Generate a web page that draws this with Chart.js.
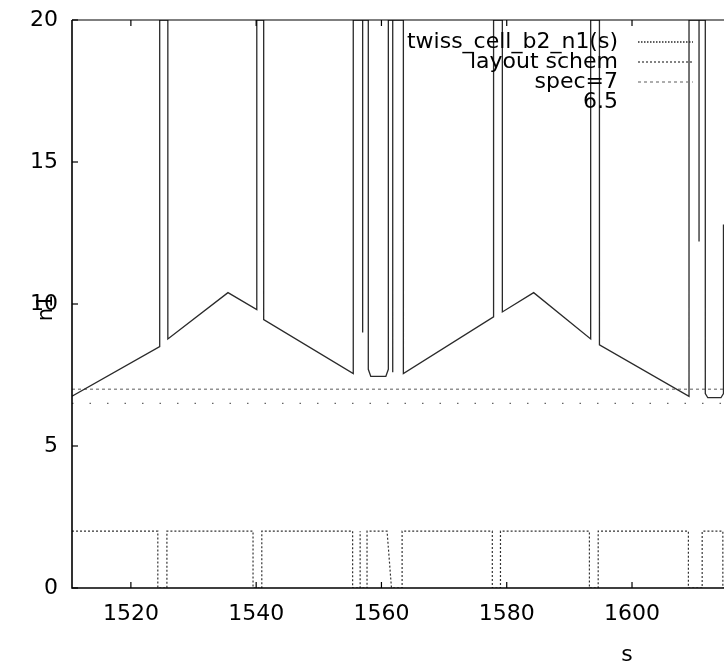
<!DOCTYPE html>
<html><head><meta charset="utf-8">
<script src="https://cdn.jsdelivr.net/npm/chart.js@4/dist/chart.umd.min.js"></script>
<style>
html,body{margin:0;padding:0;overflow:hidden;background:#fff;width:724px;height:666px}
#wrap{width:1190px;height:666px;position:relative}
</style></head>
<body><div id="wrap"><canvas id="c" width="1190" height="666"></canvas></div>
<script>
// ---- data ----
const n1S = [1510.6,1524.6,1524.6,1525.9,1525.9,1535.5,1540.1,1540.1,1541.2,1541.2,1555.5,1555.5,1557.0,1557.0,1557.0,1557.9,1557.9,1558.3,1560.7,1561.1,1561.1,1561.8,1561.8,1561.8,1563.5,1563.5,1577.9,1577.9,1579.3,1579.3,1584.3,1593.4,1593.4,1594.8,1594.8,1609.1,1609.1,1610.7,1610.7,1610.7,1611.7,1611.7,1612.1,1614.2,1614.6,1614.6];
const n1V = [6.75,8.5,20,20,8.77,10.4,9.8,20,20,9.45,7.55,20,20,9.0,20,20,7.7,7.45,7.45,7.7,20,20,7.6,20,20,7.55,9.55,20,20,9.72,10.4,8.77,20,20,8.56,6.75,20,20,12.2,20,20,6.85,6.7,6.7,6.85,12.8];
const layoutS = [1510.6,1524.3,1524.3,1525.75,1525.75,1539.5,1539.5,1540.9,1540.9,1555.4,1555.4,1556.6,1556.6,1556.6,1557.7,1557.7,1560.9,1561.6,1563.3,1563.3,1577.7,1577.7,1579.0,1579.0,1593.2,1593.2,1594.6,1594.6,1609.0,1609.0,1611.2,1611.2,1614.5,1614.5,1615.0];
const layoutV = [2,2,0,0,2,2,0,0,2,2,0,0,2,0,0,2,2,0,0,2,2,0,0,2,2,0,0,2,2,0,0,2,2,0,0];
const specS = [1510.6,1687.8];
const spec7V = [7,7];
const spec65V = [6.5,6.5];
const xTickValues = [1520,1540,1560,1580,1600,1620,1640,1660,1680];
const yTickValues = [0,5,10,15,20];
const seriesLabels = ['twiss_cell_b2_n1(s)','layout schem','spec=7','6.5'];
const xTitle = 's';
const yTitle = 'n1';

const pts = (S,V) => S.map((s,i)=>({x:s,y:V[i]}));
const FONT = 'DejaVu Sans';

const styles = [
  {borderColor:'#2a2a2a', borderWidth:1.3, borderDash:[]},
  {borderColor:'#333', borderWidth:1.2, borderDash:[2,2]},
  {borderColor:'#777', borderWidth:1.2, borderDash:[3,3]},
  {borderColor:'#666', borderWidth:1.4, borderDash:[1.5,16]}
];
const values = [[n1S,n1V],[layoutS,layoutV],[specS,spec7V],[specS,spec65V]];
const datasets = values.map((sv,i)=>Object.assign({
  label: seriesLabels[i], data: pts(sv[0],sv[1]), pointRadius:0, tension:0, fill:false
}, styles[i]));

const frame = {
  id:'frame',
  afterDatasetsDraw(chart){
    const ctx = chart.ctx, a = chart.chartArea, xs = chart.scales.x, ys = chart.scales.y;
    ctx.save();
    ctx.strokeStyle = '#000'; ctx.setLineDash([]);
    ctx.lineWidth = 1.6;
    ctx.beginPath(); ctx.moveTo(a.left, a.top); ctx.lineTo(a.left, a.bottom); ctx.lineTo(a.right, a.bottom); ctx.stroke();
    ctx.lineWidth = 1.1;
    ctx.beginPath(); ctx.moveTo(a.left, a.top); ctx.lineTo(a.right, a.top); ctx.stroke();
    ctx.lineWidth = 1.2;
    xTickValues.forEach(v=>{ const p = xs.getPixelForValue(v);
      ctx.beginPath(); ctx.moveTo(p,a.bottom); ctx.lineTo(p,a.bottom-6); ctx.moveTo(p,a.top); ctx.lineTo(p,a.top+6); ctx.stroke(); });
    yTickValues.forEach(v=>{ const p = ys.getPixelForValue(v);
      ctx.beginPath(); ctx.moveTo(a.left,p); ctx.lineTo(a.left+6,p); ctx.stroke(); });
    // y title
    ctx.fillStyle = '#000'; ctx.font = '21px "'+FONT+'"';
    ctx.textAlign = 'center'; ctx.textBaseline = 'middle';
    ctx.translate(47, (a.top+a.bottom)/2 + 4); ctx.rotate(-Math.PI/2);
    ctx.fillText(yTitle, 0, 0);
    ctx.restore();
    // legend
    ctx.save();
    const rows = [42,62,82,102];
    ctx.font = '22px "'+FONT+'"'; ctx.fillStyle = '#000';
    ctx.textAlign = 'right'; ctx.textBaseline = 'middle';
    chart.data.datasets.forEach((d,i)=>{
      ctx.fillText(d.label, 618, rows[i]);
      if (i < 3) {
        ctx.strokeStyle = d.borderColor; ctx.lineWidth = d.borderWidth; ctx.setLineDash(i===0?[1.5,1.5]:d.borderDash);
        ctx.beginPath(); ctx.moveTo(638, rows[i]); ctx.lineTo(693, rows[i]); ctx.stroke();
      }
    });
    ctx.restore();
  }
};

new Chart(document.getElementById('c'), {
  type:'line',
  data:{datasets},
  options:{
    responsive:false, animation:false, devicePixelRatio:1,
    layout:{padding:{left:0,right:8,top:20,bottom:0}},
    plugins:{legend:{display:false}, tooltip:{enabled:false}},
    scales:{
      x:{type:'linear', position:'bottom', min:1510.6, max:1687.8,
        grid:{display:false, drawTicks:false}, border:{display:false},
        afterBuildTicks(s){ s.ticks = xTickValues.map(v=>({value:v})); },
        afterFit(s){ s.height = 78; s.paddingLeft = 0; s.paddingRight = 0; },
        ticks:{color:'#000', font:{family:FONT, size:22}, padding:13, maxRotation:0, autoSkip:false, callback:v=>String(v)},
        title:{display:true, text:xTitle, color:'#000', font:{family:FONT, size:22, lineHeight:1}, padding:{top:0,bottom:0}}
      },
      y:{type:'linear', min:0, max:20,
        grid:{display:false, drawTicks:false}, border:{display:false},
        afterBuildTicks(s){ s.ticks = yTickValues.map(v=>({value:v})); },
        afterFit(s){ s.width = 72; s.paddingTop = 0; s.paddingBottom = 0; },
        ticks:{color:'#000', font:{family:FONT, size:22}, padding:14, callback:v=>String(v)}
      }
    }
  },
  plugins:[frame]
});
</script>
</body></html>
